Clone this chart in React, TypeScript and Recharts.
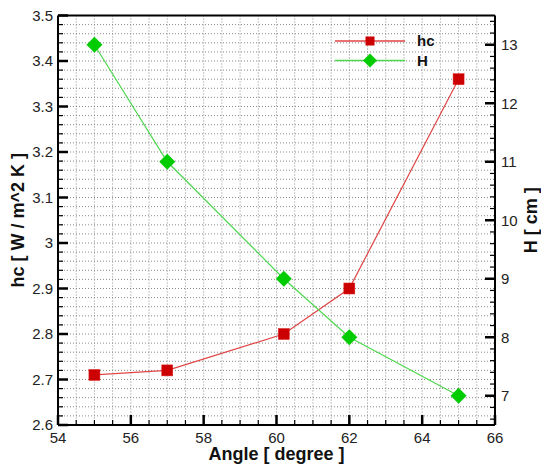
import {
  ComposedChart,
  Line,
  XAxis,
  YAxis,
  CartesianGrid,
  ReferenceLine,
  Legend,
} from "recharts";

// measured points: inclination angle vs. heat transfer coefficient and height
const angles = [55, 57, 60.2, 62, 65];
const hcValues = [2.71, 2.72, 2.8, 2.9, 3.36];
const heightValues = [13, 11, 9, 8, 7];

// labelled (major) ticks
const angleTicks = [54, 56, 58, 60, 62, 64, 66];
const hcTicks = [2.6, 2.7, 2.8, 2.9, 3, 3.1, 3.2, 3.3, 3.4, 3.5];
const heightTicks = [7, 8, 9, 10, 11, 12, 13];

const FONT = '"Liberation Sans", Arial, Helvetica, sans-serif';
const RED = "#cc0000";
const RED_LINE = "#e04444";
const GREEN = "#00cc00";
const GREEN_LINE = "#4fd84f";

const data = angles.map((a, i) => ({
  angle: a,
  hc: hcValues[i],
  H: heightValues[i],
}));

// tick positions including the unlabelled minor steps
function stepTicks(from: number, to: number, step: number) {
  const out: number[] = [];
  const n = Math.round((to - from) / step);
  for (let i = 0; i <= n; i++) out.push(Number((from + i * step).toFixed(4)));
  return out;
}

const xTickValues = stepTicks(54, 66, 0.5);
const hcTickValues = stepTicks(2.6, 3.5, 0.02);
const heightTickValues = stepTicks(6.6, 13.4, 0.2);

const isMajor = (majors: number[], v: number) =>
  majors.some((m) => Math.abs(m - v) < 1e-6);

const fmt = (v: number) => String(Number(v.toFixed(2)));

// ticks point into the plot; only majors get a label
function makeTick(side: "left" | "right" | "bottom", majors: number[], margin: number) {
  // eslint-disable-next-line @typescript-eslint/no-explicit-any
  return (props: any) => {
    const { x, y, payload } = props;
    const v = payload.value as number;
    const major = isMajor(majors, v);
    const len = major ? 10 : 5;
    const sw = major ? 2.5 : 1.2;
    const textStyle = { fontFamily: FONT, fontSize: 15, fill: "#222" };
    if (side === "left") {
      const ax = x + margin;
      return (
        <g>
          <line x1={ax} x2={ax + len} y1={y} y2={y} stroke="#000" strokeWidth={sw} />
          {major && (
            <text x={x} y={y} dy="0.36em" textAnchor="end" style={textStyle}>
              {fmt(v)}
            </text>
          )}
        </g>
      );
    }
    if (side === "right") {
      const ax = x - margin;
      return (
        <g>
          <line x1={ax} x2={ax - len} y1={y} y2={y} stroke="#000" strokeWidth={sw} />
          {major && (
            <text x={x} y={y} dy="0.36em" textAnchor="start" style={textStyle}>
              {fmt(v)}
            </text>
          )}
        </g>
      );
    }
    const ay = y - margin;
    return (
      <g>
        <line x1={x} x2={x} y1={ay} y2={ay - len} stroke="#000" strokeWidth={sw} />
        {major && (
          <text x={x} y={y} dy="0.71em" textAnchor="middle" style={textStyle}>
            {fmt(v)}
          </text>
        )}
      </g>
    );
  };
}

const titleStyle = { fontFamily: FONT, fontSize: 18, fontWeight: 700, fill: "#111" };

// rotated axis title, centred vertically on the axis box
function verticalTitle(text: string, fromLeft: number) {
  // eslint-disable-next-line @typescript-eslint/no-explicit-any
  return (props: any) => {
    const vb = props.viewBox ?? { x: 0, y: 0, width: 0, height: 0 };
    const cx = vb.x + fromLeft;
    const cy = vb.y + vb.height / 2;
    return (
      <text
        x={cx}
        y={cy}
        dy="0.36em"
        textAnchor="middle"
        transform={`rotate(-90 ${cx} ${cy})`}
        style={titleStyle}
      >
        {text}
      </text>
    );
  };
}

// eslint-disable-next-line @typescript-eslint/no-explicit-any
function bottomTitle(props: any) {
  const vb = props.viewBox ?? { x: 0, y: 0, width: 0, height: 0 };
  return (
    <text x={vb.x + vb.width / 2} y={vb.y + vb.height - 7} textAnchor="middle" style={titleStyle}>
      Angle [ degree ]
    </text>
  );
}

// eslint-disable-next-line @typescript-eslint/no-explicit-any
function SquareDot(props: any) {
  const { cx, cy, index } = props;
  if (cx == null || cy == null) return null;
  return (
    <rect key={`sq-${index}`} x={cx - 5.5} y={cy - 5.5} width={11} height={11} fill={RED} stroke="#dd2222" strokeWidth={0.5} />
  );
}

// eslint-disable-next-line @typescript-eslint/no-explicit-any
function DiamondDot(props: any) {
  const { cx, cy, index } = props;
  if (cx == null || cy == null) return null;
  const r = 8;
  return (
    <polygon
      key={`dm-${index}`}
      points={`${cx},${cy - r} ${cx + r},${cy} ${cx},${cy + r} ${cx - r},${cy}`}
      fill={GREEN}
    />
  );
}

function LegendBox() {
  const text = { fontFamily: FONT, fontSize: 15, fontWeight: 700, fill: "#111" };
  return (
    <svg width={130} height={44}>
      <line x1={5} x2={75} y1={11} y2={11} stroke={RED_LINE} strokeWidth={1.4} />
      <rect x={35.5} y={6.5} width={9} height={9} fill={RED} />
      <text x={87} y={11} dy="0.36em" style={text}>hc</text>
      <line x1={5} x2={75} y1={30.5} y2={30.5} stroke={GREEN_LINE} strokeWidth={1.4} />
      <polygon points="40,23.5 47,30.5 40,37.5 33,30.5" fill={GREEN} />
      <text x={87} y={30.5} dy="0.36em" style={text}>H</text>
    </svg>
  );
}

export default function App() {
  return (
    <div style={{ position: "absolute", left: 0, top: 0, width: 541, height: 467, background: "#fff" }}>
      <ComposedChart
        width={541}
        height={467}
        data={data}
        margin={{ top: 15.5, right: 0, bottom: 0, left: 0 }}
      >
        <CartesianGrid
          xAxisId="x"
          yAxisId="left"
          stroke="#8a8a8a"
          strokeDasharray="1 2"
        />
        <XAxis
          xAxisId="x"
          dataKey="angle"
          type="number"
          domain={[54, 66]}
          ticks={xTickValues}
          interval={0}
          height={42}
          tickSize={0}
          tickMargin={7}
          tickLine={false}
          tick={makeTick("bottom", angleTicks, 7)}
          axisLine={{ stroke: "#000", strokeWidth: 2 }}
          label={{ content: bottomTitle }}
        />
        <YAxis
          yAxisId="left"
          type="number"
          domain={[2.6, 3.5]}
          ticks={hcTickValues}
          interval={0}
          width={58}
          tickSize={0}
          tickMargin={5}
          tickLine={false}
          tick={makeTick("left", hcTicks, 5)}
          axisLine={{ stroke: "#000", strokeWidth: 2 }}
          allowDataOverflow
          label={{ content: verticalTitle("hc [ W / m^2 K ]", 18) }}
        />
        <YAxis
          yAxisId="right"
          orientation="right"
          type="number"
          domain={[6.5, 13.5]}
          ticks={heightTickValues}
          interval={0}
          width={46}
          tickSize={0}
          tickMargin={6}
          tickLine={false}
          tick={makeTick("right", heightTicks, 6)}
          axisLine={{ stroke: "#000", strokeWidth: 2 }}
          allowDataOverflow
          label={{ content: verticalTitle("H [ cm ]", 36) }}
        />
        <ReferenceLine xAxisId="x" yAxisId="left" y={3.5} stroke="#000" strokeWidth={2} />
        <Line
          xAxisId="x"
          yAxisId="left"
          dataKey="hc"
          stroke={RED_LINE}
          strokeWidth={1.2}
          dot={SquareDot}
          isAnimationActive={false}
        />
        <Line
          xAxisId="x"
          yAxisId="right"
          dataKey="H"
          stroke={GREEN_LINE}
          strokeWidth={1.2}
          dot={DiamondDot}
          isAnimationActive={false}
        />
        <Legend
          layout="vertical"
          align="center"
          verticalAlign="middle"
          content={<LegendBox />}
          wrapperStyle={{ position: "absolute", left: 330, top: 30, width: 130, height: 44 }}
        />
      </ComposedChart>
    </div>
  );
}
